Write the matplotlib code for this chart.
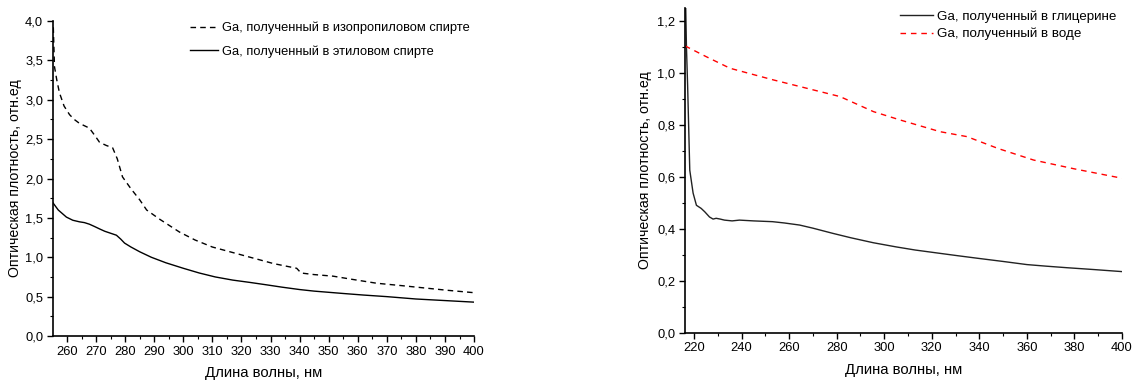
import matplotlib
matplotlib.use("Agg")
import matplotlib.pyplot as plt
from matplotlib.ticker import MultipleLocator, FuncFormatter

plt.rcParams['font.family'] = ['Liberation Sans', 'DejaVu Sans']

# Left chart data
iso_x = [255.3, 255.7, 256.5, 257.4, 259.0, 260.9, 262.5, 264.3, 266.0, 267.7, 269.5, 271.2, 273.5, 275.7, 277.3, 279.1, 282.0, 285.0, 287.4, 292.0, 298.7, 304.0, 310.0, 317.0, 324.0, 331.0, 339.0, 340.5, 345.0, 351.5, 358.0, 366.5, 375.0, 383.0, 391.0, 400.0]
iso_y = [3.92, 3.42, 3.25, 3.09, 2.92, 2.81, 2.75, 2.70, 2.67, 2.64, 2.55, 2.46, 2.42, 2.39, 2.25, 2.02, 1.87, 1.73, 1.60, 1.48, 1.32, 1.22, 1.13, 1.06, 0.99, 0.92, 0.86, 0.80, 0.78, 0.76, 0.72, 0.67, 0.64, 0.61, 0.58, 0.55]

eth_x = [255.2, 257.0, 259.8, 262.0, 264.3, 266.0, 267.7, 269.5, 271.2, 273.0, 274.6, 277.0, 278.5, 279.8, 282.0, 285.0, 289.0, 294.0, 300.0, 305.5, 311.0, 317.0, 323.0, 328.6, 334.0, 340.0, 345.0, 355.0, 362.0, 370.0, 380.0, 390.0, 400.0]
eth_y = [1.69, 1.60, 1.51, 1.47, 1.45, 1.44, 1.42, 1.39, 1.36, 1.33, 1.31, 1.28, 1.23, 1.18, 1.13, 1.07, 1.00, 0.93, 0.86, 0.80, 0.75, 0.71, 0.68, 0.65, 0.62, 0.59, 0.57, 0.54, 0.52, 0.50, 0.47, 0.45, 0.43]

# Right chart data
gly_x = [216.4, 216.8, 217.3, 218.2, 219.6, 221.0, 223.0, 224.5, 226.5, 228.0, 229.3, 231.0, 232.8, 236.0, 239.1, 245.0, 253.0, 258.0, 264.4, 270.0, 278.4, 286.0, 295.4, 305.0, 313.0, 323.6, 331.0, 339.5, 350.0, 360.0, 368.0, 376.8, 388.0, 400.0]
gly_y = [1.30, 1.10, 0.95, 0.625, 0.537, 0.49, 0.478, 0.465, 0.445, 0.437, 0.44, 0.437, 0.433, 0.430, 0.433, 0.430, 0.427, 0.422, 0.414, 0.402, 0.382, 0.365, 0.346, 0.330, 0.318, 0.305, 0.296, 0.286, 0.274, 0.262, 0.256, 0.250, 0.243, 0.235]

water_x = [216.2, 225.0, 235.1, 244.0, 253.4, 267.4, 281.4, 295.5, 306.7, 323.5, 334.8, 348.0, 362.8, 380.0, 400.0]
water_y = [1.103, 1.062, 1.017, 0.995, 0.972, 0.940, 0.908, 0.850, 0.818, 0.773, 0.754, 0.708, 0.664, 0.630, 0.594]

fig = plt.figure(figsize=(11.33, 3.82), dpi=100)
ax1 = fig.add_axes([0.0468, 0.1204, 0.3716, 0.8246])
ax2 = fig.add_axes([0.6046, 0.129, 0.3857, 0.851])

comma = FuncFormatter(lambda v, p: f"{v:.1f}".replace('.', ','))
intfmt = FuncFormatter(lambda v, p: f"{v:.0f}")

for ax in (ax1, ax2):
    ax.spines['top'].set_visible(False)
    ax.spines['right'].set_visible(False)
    ax.spines['left'].set_linewidth(1.2)
    ax.spines['bottom'].set_linewidth(1.2)
    ax.tick_params(which='major', direction='out', length=4, width=1.0, labelsize=9.3, pad=3)
    ax.tick_params(which='minor', direction='out', length=2.5, width=0.8)
    ax.yaxis.set_major_formatter(comma)
    ax.xaxis.set_major_formatter(intfmt)
    ax.set_xlabel('Длина волны, нм', fontsize=10.7, labelpad=6)

ax1.set_ylabel('Оптическая плотность, отн.ед', fontsize=10.2, labelpad=2)
ax2.set_ylabel('Оптическая плотность, отн.ед', fontsize=10.2, labelpad=4)

ax1.plot(iso_x, iso_y, color='black', lw=1.0, dashes=(4, 3), label='Ga, полученный в изопропиловом спирте')
ax1.plot(eth_x, eth_y, color='black', lw=1.0, label='Ga, полученный в этиловом спирте')
ax1.set_xlim(255.2, 400)
ax1.set_ylim(0, 4.0)
ax1.xaxis.set_major_locator(MultipleLocator(10))
ax1.xaxis.set_minor_locator(MultipleLocator(5))
ax1.yaxis.set_major_locator(MultipleLocator(0.5))
ax1.yaxis.set_minor_locator(MultipleLocator(0.25))
ax1.legend(loc='upper left', bbox_to_anchor=(0.325, 0.997), frameon=False, fontsize=9.3,
           handlelength=2.2, handletextpad=0.3, labelspacing=0.85, borderaxespad=0.0, borderpad=0.0)

ax2.plot(gly_x, gly_y, color='#222222', lw=1.0, label='Ga, полученный в глицерине')
ax2.plot(water_x, water_y, color='red', lw=1.0, dashes=(4, 3.5), label='Ga, полученный в воде')
ax2.set_xlim(216.2, 400)
ax2.set_ylim(0, 1.25)
ax2.xaxis.set_major_locator(MultipleLocator(20))
ax2.xaxis.set_minor_locator(MultipleLocator(10))
ax2.yaxis.set_major_locator(MultipleLocator(0.2))
ax2.yaxis.set_minor_locator(MultipleLocator(0.1))
ax2.legend(loc='upper left', bbox_to_anchor=(0.492, 0.991), frameon=False, fontsize=9.6,
           handlelength=2.5, handletextpad=0.3, labelspacing=0.35, borderaxespad=0.0, borderpad=0.0)

fig.savefig('out.png', dpi=100)
